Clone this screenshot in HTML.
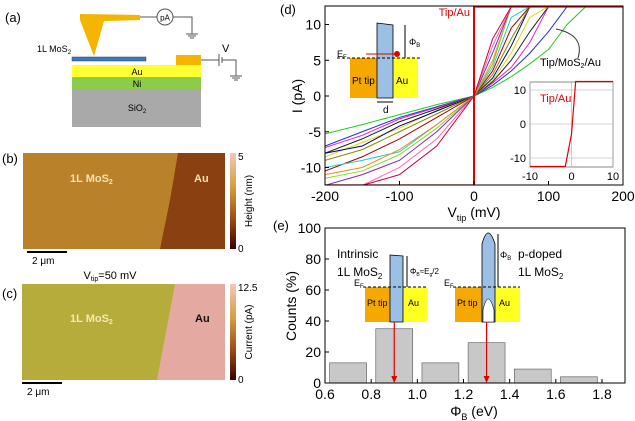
<!DOCTYPE html>
<html><head><meta charset="utf-8"><style>
body{margin:0;background:#fff}
svg{display:block;font-family:"Liberation Sans",Arial,sans-serif}
</style></head><body>
<svg width="635" height="421" viewBox="0 0 635 421">
<defs>
<clipPath id="cd"><rect x="325" y="6" width="298" height="179"/></clipPath>
<linearGradient id="cb1" x1="0" y1="0" x2="0" y2="1"><stop offset="0" stop-color="#f2c8b8"/><stop offset="0.35" stop-color="#d4a040"/><stop offset="0.7" stop-color="#9a4a10"/><stop offset="1" stop-color="#3a0000"/></linearGradient>
</defs>
<!-- panel a -->
<g>
<text x="5" y="22" font-size="13">(a)</text>
<polygon points="80,14 140,15 140,20 104,21 94,56 80,20" fill="#f5b400"/>
<line x1="140" y1="17" x2="157" y2="17" stroke="#555"/>
<circle cx="165" cy="17" r="8" fill="#fff" stroke="#555"/>
<text x="165" y="20.5" font-size="8" text-anchor="middle">pA</text>
<polyline points="173,17 192,17 192,34" fill="none" stroke="#555"/>
<line x1="186" y1="34" x2="198" y2="34" stroke="#555"/><line x1="188" y1="36" x2="196" y2="36" stroke="#555"/><line x1="190" y1="38" x2="194" y2="38" stroke="#555"/>
<text x="37" y="52" font-size="9">1L MoS<tspan font-size="6" dy="2">2</tspan></text>
<rect x="72" y="57" width="74" height="4" fill="#3a78c0" stroke="#345" stroke-width="0.5"/>
<rect x="176" y="55" width="25" height="10" fill="#f5b400"/>
<rect x="72" y="65" width="129" height="12" fill="#ffff33"/>
<text x="137" y="75" font-size="9" text-anchor="middle">Au</text>
<rect x="72" y="77" width="129" height="12" fill="#8ccc4a"/>
<text x="137" y="87" font-size="9" text-anchor="middle">Ni</text>
<rect x="72" y="89" width="129" height="38" fill="#a9a9a9"/>
<text x="137" y="111" font-size="9" text-anchor="middle">SiO<tspan font-size="6" dy="2">2</tspan></text>
<polyline points="201,60 219,60" stroke="#555" fill="none"/>
<line x1="219" y1="54" x2="219" y2="66" stroke="#555"/><line x1="222" y1="57" x2="222" y2="63" stroke="#555"/>
<polyline points="222,60 236,60 236,76" stroke="#555" fill="none"/>
<line x1="230" y1="76" x2="242" y2="76" stroke="#555"/><line x1="232" y1="78" x2="240" y2="78" stroke="#555"/><line x1="234" y1="80" x2="238" y2="80" stroke="#555"/>
<text x="222" y="52" font-size="11">V</text>
</g>
<!-- panel b -->
<g>
<text x="2" y="163" font-size="13">(b)</text>
<rect x="23" y="153" width="202" height="96" fill="#b9822a"/>
<polygon points="178,153 225,153 225,249 160,249 170,200" fill="#8a4010"/>
<text x="70" y="182" font-size="11" font-weight="bold" fill="#f4e2b0">1L MoS<tspan font-size="7" dy="2">2</tspan></text>
<text x="194" y="182" font-size="11" font-weight="bold" fill="#f4e2b0">Au</text>
<rect x="230" y="153" width="6" height="96" fill="url(#cb1)"/>
<text x="238" y="160" font-size="10">5</text><text x="238" y="252" font-size="10">0</text>
<text transform="translate(252,201) rotate(-90)" font-size="10" text-anchor="middle">Height (nm)</text>
<line x1="27" y1="252" x2="67" y2="252" stroke="#000" stroke-width="2"/>
<text x="32" y="264" font-size="10">2 μm</text>
</g>
<!-- panel c -->
<g>
<text x="2" y="298" font-size="13">(c)</text>
<text x="110" y="279" font-size="11" text-anchor="middle">V<tspan font-size="7" dy="2">tip</tspan><tspan dy="-2">=50 mV</tspan></text>
<rect x="22" y="284" width="203" height="96" fill="#b5ac3c"/>
<polygon points="175,284 225,284 225,380 157,380" fill="#e4aaa2"/>
<text x="70" y="322" font-size="11" font-weight="bold" fill="#f4eab0">1L MoS<tspan font-size="7" dy="2">2</tspan></text>
<text x="195" y="322" font-size="11" font-weight="bold" fill="#111">Au</text>
<rect x="230" y="284" width="6" height="96" fill="url(#cb1)"/>
<text x="238" y="291" font-size="10">12.5</text><text x="238" y="383" font-size="10">0</text>
<text transform="translate(252,332) rotate(-90)" font-size="10" text-anchor="middle">Current (pA)</text>
<line x1="22" y1="383" x2="62" y2="383" stroke="#000" stroke-width="2"/>
<text x="27" y="395" font-size="10">2 μm</text>
</g>
<text x="280" y="14" font-size="13">(d)</text>
<text x="273" y="230" font-size="13">(e)</text>
<g id="d"></g>
<g id="e"></g>
</svg>
<script>
const NS="http://www.w3.org/2000/svg";
function mk(p,t,a,txt){const e=document.createElementNS(NS,t);for(const k in a)e.setAttribute(k,a[k]);if(txt!==undefined)e.textContent=txt;p.appendChild(e);return e;}
// ---- panel d data ----
const ivVolts=[-200,-150,-100,-50,0,25,50,75,100,125,150,200];
const ivGreen=[-5.3,-4,-2.6,-1.2,0,1.2,2.7,4.5,6.5,10,12.5,12.5];
const ivBlue=[-7,-5,-3,-1.5,0,1.5,3.5,6,9,12.5,12.5,12.5];
const ivMagenta=[-7.2,-5.5,-3.2,-1.6,0,1.8,4,7.5,12.5,12.5,12.5,12.5];
const ivBlack=[-8,-6,-3.6,-1.8,0,2,5,9,12.5,12.5,12.5,12.5];
const ivYellow=[-8.5,-6.5,-4.5,-2,0,2.2,6,11,12.5,12.5,12.5,12.5];
const ivNavy=[-8,-7,-4.2,-2.1,0,2.5,7,12.5,12.5,12.5,12.5,12.5];
const ivOlive=[-9,-7.5,-5,-2.5,0,3,8,12.5,12.5,12.5,12.5,12.5];
const ivDarkRed=[-10.5,-8.5,-6,-3,0,3.5,9.5,12.5,12.5,12.5,12.5,12.5];
const ivCyan=[-10,-9,-7.8,-4,0,4,11,12.5,12.5,12.5,12.5,12.5];
const ivOrange=[-11,-10,-7.5,-4,0,4.5,12.5,12.5,12.5,12.5,12.5,12.5];
const ivLime=[-11.5,-10.5,-8.2,-4.5,0,5,12.5,12.5,12.5,12.5,12.5,12.5];
const ivPurple=[-12.5,-11,-9,-5,0,6,12.5,12.5,12.5,12.5,12.5,12.5];
const ivPink=[-12.5,-12.5,-10,-6,0,7,12.5,12.5,12.5,12.5,12.5,12.5];
const ivCrimson=[-12.5,-12.5,-11,-7,0,8,12.5,12.5,12.5,12.5,12.5,12.5];
const ivSeries=[[ivGreen,"#22cc22"],[ivBlue,"#2233cc"],[ivMagenta,"#dd22dd"],[ivBlack,"#222"],[ivYellow,"#dddd00"],[ivNavy,"#000088"],[ivOlive,"#888800"],[ivDarkRed,"#aa0000"],[ivCyan,"#22cccc"],[ivOrange,"#ee8822"],[ivLime,"#88dd22"],[ivPurple,"#8822cc"],[ivPink,"#ff66aa"],[ivCrimson,"#cc0044"]];
const dXTicks=[-200,-100,0,100,200];
const dYTicks=[-10,-5,0,5,10];
const tipAuV=[-200,0,0,200];
const tipAuI=[-12.5,-12.5,12.5,12.5];
const insetV=[-10,-1.5,0,1,10];
const insetI=[-12.5,-12.5,-3,12.5,12.5];
const insetTicksX=[-10,0,10];
const insetTicksY=[-10,0,10];
// ---- panel e data ----
const histCenters=[0.7,0.9,1.1,1.3,1.5,1.7];
const histCounts=[13,35,13,26,9,4];
const eXTicks=[0.6,0.8,1.0,1.2,1.4,1.6,1.8];
const eYTicks=[0,20,40,60,80,100];
const markerPhi=[0.9,1.3];

const dx=v=>325+(v+200)/400*298, dy=i=>96-i*7.15;
const D=document.getElementById('d');


const cg=mk(D,'g',{'clip-path':'url(#cd)'});
ivSeries.forEach(([arr,c])=>{
 const pl=mk(cg,'polyline',{points:arr.map((v,k)=>dx(ivVolts[k])+','+dy(v)).join(' '),fill:'none',stroke:c,'stroke-width':1});
 
 
});
const ta=mk(cg,'polyline',{points:tipAuV.map((v,k)=>dx(v)+','+dy(tipAuI[k])).join(' '),fill:'none',stroke:'#e00000','stroke-width':2});


const fr=mk(D,'rect',{x:325,y:6,width:298,height:179,fill:'none',stroke:'#000'});


dXTicks.forEach(t=>{mk(D,'line',{x1:dx(t),x2:dx(t),y1:185,y2:181,stroke:'#000'});const l=mk(D,'text',{x:dx(t),y:201,'font-size':14,'text-anchor':'middle'},String(t));});
dYTicks.forEach(t=>{mk(D,'line',{x1:325,x2:329,y1:dy(t),y2:dy(t),stroke:'#000'});const l=mk(D,'text',{x:321,y:dy(t)+5,'font-size':14,'text-anchor':'end'},String(t));});
let xt=mk(D,'text',{x:474,y:217,'font-size':14,'text-anchor':'middle'});xt.innerHTML='V<tspan font-size="9" dy="4">tip</tspan><tspan dy="-4"> (mV)</tspan>';

let yt=mk(D,'text',{transform:'translate(302,96) rotate(-90)','font-size':14,'text-anchor':'middle'},'I (pA)');

mk(D,'text',{x:470,y:16,'font-size':11,fill:'#e00000','text-anchor':'end'},'Tip/Au');
let ml=mk(D,'text',{x:540,y:66,'font-size':11});ml.innerHTML='Tip/MoS<tspan font-size="7" dy="2">2</tspan><tspan dy="-2">/Au</tspan>';
mk(D,'path',{d:'M578,58 Q585,35 556,29',fill:'none',stroke:'#333'});
// band diagram d
mk(D,'rect',{x:350,y:58,width:27,height:40,fill:'#f5a800'});
mk(D,'rect',{x:393,y:58,width:25,height:40,fill:'#ffff22'});
mk(D,'polygon',{points:'377,23 393,25 393,98 377,98',fill:'#9cc0e4',stroke:'#000','stroke-width':0.8});
mk(D,'line',{x1:337,x2:420,y1:58,y2:58,stroke:'#000','stroke-dasharray':'3,2'});
mk(D,'line',{x1:405,x2:405,y1:25,y2:58,stroke:'#000'});
let ef1=mk(D,'text',{x:337,y:57,'font-size':9});ef1.innerHTML='E<tspan font-size="6" dy="2">F</tspan>';
let pb1=mk(D,'text',{x:409,y:45,'font-size':9});pb1.innerHTML='Φ<tspan font-size="6" dy="2">B</tspan>';
mk(D,'line',{x1:397,x2:366,y1:54,y2:54,stroke:'#e00000'});
mk(D,'circle',{cx:397,cy:54,r:3,fill:'#e00000'});
mk(D,'text',{x:352,y:84,'font-size':10},'Pt tip');
mk(D,'text',{x:396,y:84,'font-size':10},'Au');
mk(D,'line',{x1:377,x2:393,y1:102,y2:102,stroke:'#000'});
mk(D,'text',{x:383,y:113,'font-size':10},'d');
// inset
const ix=v=>530+(v+10)/20*83, iy=i=>124-i*3.4;
const IN=mk(D,'g',{});


mk(IN,'rect',{x:530,y:82,width:83,height:85,fill:'#fff',stroke:'#888'});
insetTicksY.forEach(t=>{mk(IN,'line',{x1:530,x2:613,y1:iy(t),y2:iy(t),stroke:'#aab','stroke-width':0.6});mk(IN,'text',{x:526,y:iy(t)+4,'font-size':11,'text-anchor':'end'},String(t));});
insetTicksX.forEach(t=>{mk(IN,'line',{x1:ix(t),x2:ix(t),y1:82,y2:167,stroke:'#aab','stroke-width':0.6});mk(IN,'text',{x:ix(t),y:180,'font-size':11,'text-anchor':'middle'},String(t));});
mk(IN,'polyline',{points:insetV.map((v,k)=>ix(v)+','+iy(insetI[k])).join(' '),fill:'none',stroke:'#e00000','stroke-width':1.2});
mk(IN,'text',{x:540,y:102,'font-size':11,fill:'#e00000'},'Tip/Au');

// ---- panel e ----
const ex=v=>325+(v-0.6)/1.2*277, ey=c=>383-c*1.55;
const E=document.getElementById('e');


histCenters.forEach((c,k)=>{
 const b=mk(E,'rect',{x:ex(c-0.08),y:ey(histCounts[k]),width:ex(c+0.08)-ex(c-0.08),height:ey(0)-ey(histCounts[k]),fill:'#c8c8c8',stroke:'#555','stroke-width':0.6});
 
 
});
const f2=mk(E,'rect',{x:325,y:228,width:300,height:155,fill:'none',stroke:'#000'});


eXTicks.forEach(t=>{mk(E,'line',{x1:ex(t),x2:ex(t),y1:383,y2:379,stroke:'#000'});const l=mk(E,'text',{x:ex(t),y:399,'font-size':14,'text-anchor':'middle'},t.toFixed(1));});
eYTicks.forEach(t=>{mk(E,'line',{x1:325,x2:329,y1:ey(t),y2:ey(t),stroke:'#000'});const l=mk(E,'text',{x:321,y:ey(t)+5,'font-size':14,'text-anchor':'end'},String(t));});
let xt2=mk(E,'text',{x:474,y:416,'font-size':14,'text-anchor':'middle'});xt2.innerHTML='Φ<tspan font-size="9" dy="4">B</tspan><tspan dy="-4"> (eV)</tspan>';

let yt2=mk(E,'text',{transform:'translate(296,306) rotate(-90)','font-size':14,'text-anchor':'middle'},'Counts (%)');

// band diagrams e
mk(E,'rect',{x:365,y:287,width:25,height:35,fill:'#f5a800'});
mk(E,'rect',{x:403,y:287,width:24,height:35,fill:'#ffff22'});
mk(E,'polygon',{points:'390,255 403,256 403,322 390,322',fill:'#9cc0e4',stroke:'#000','stroke-width':0.8});
mk(E,'line',{x1:363,x2:428,y1:287,y2:287,stroke:'#000','stroke-dasharray':'3,2'});
mk(E,'line',{x1:407,x2:407,y1:256,y2:287,stroke:'#000'});
let ef2=mk(E,'text',{x:354,y:286,'font-size':9});ef2.innerHTML='E<tspan font-size="6" dy="2">F</tspan>';
mk(E,'text',{x:367,y:306,'font-size':9},'Pt tip');
mk(E,'text',{x:408,y:306,'font-size':9},'Au');
mk(E,'text',{x:337,y:258,'font-size':12},'Intrinsic');
let t1=mk(E,'text',{x:337,y:276,'font-size':12});t1.innerHTML='1L MoS<tspan font-size="8" dy="3">2</tspan>';
let pe=mk(E,'text',{x:410,y:274,'font-size':8});pe.innerHTML='Φ<tspan font-size="5" dy="2">B</tspan><tspan dy="-2">≈E</tspan><tspan font-size="5" dy="2">g</tspan><tspan dy="-2">/2</tspan>';
mk(E,'rect',{x:455,y:287,width:27,height:35,fill:'#f5a800'});
mk(E,'rect',{x:495,y:287,width:25,height:35,fill:'#ffff22'});
mk(E,'path',{d:'M482,322 L482,244 Q488,222 495,244 L495,322 Z',fill:'#9cc0e4',stroke:'#000','stroke-width':0.8});
mk(E,'path',{d:'M483,322 L483,310 Q488,288 494,310 L494,322 Z',fill:'#fff',stroke:'#000','stroke-width':0.6});
mk(E,'line',{x1:453,x2:520,y1:287,y2:287,stroke:'#000','stroke-dasharray':'3,2'});
mk(E,'line',{x1:498,x2:498,y1:234,y2:287,stroke:'#000'});
let ef3=mk(E,'text',{x:444,y:286,'font-size':9});ef3.innerHTML='E<tspan font-size="6" dy="2">F</tspan>';
mk(E,'text',{x:457,y:306,'font-size':9},'Pt tip');
mk(E,'text',{x:499,y:306,'font-size':9},'Au');
let pb2=mk(E,'text',{x:500,y:258,'font-size':9});pb2.innerHTML='Φ<tspan font-size="6" dy="2">B</tspan>';
mk(E,'text',{x:518,y:258,'font-size':12},'p-doped');
let t2=mk(E,'text',{x:518,y:276,'font-size':12});t2.innerHTML='1L MoS<tspan font-size="8" dy="3">2</tspan>';
markerPhi.forEach(p=>{
 const a=mk(E,'line',{x1:ex(p),x2:ex(p),y1:322,y2:380,stroke:'#e00000','stroke-width':1.2});
 
 
 mk(E,'polygon',{points:`${ex(p)-3},376 ${ex(p)+3},376 ${ex(p)},383`,fill:'#e00000'});
});
</script>
</body></html>
